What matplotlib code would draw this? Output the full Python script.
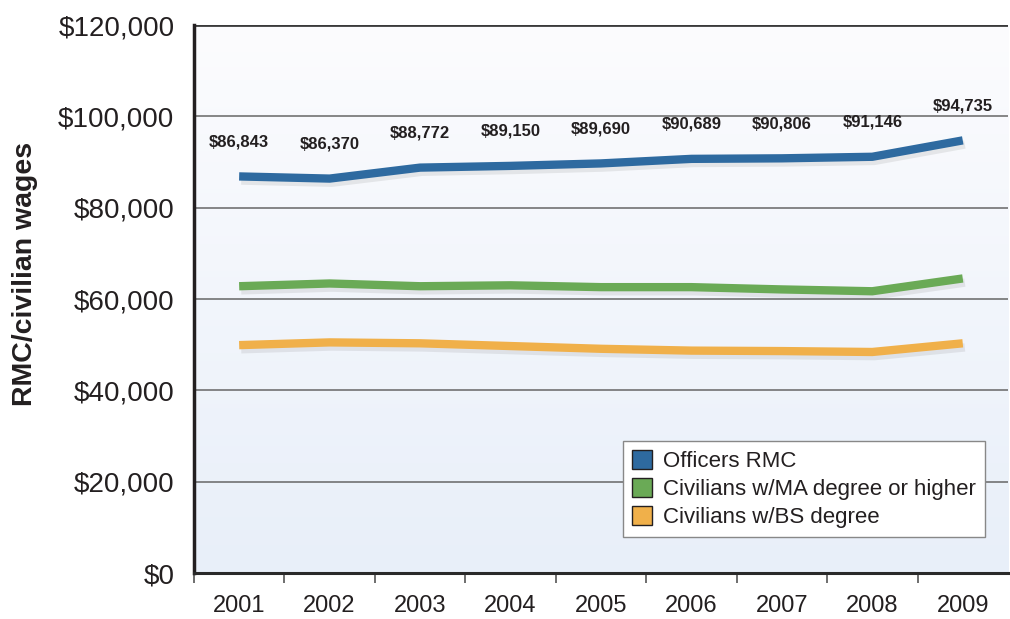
import numpy as np
import matplotlib
matplotlib.use('Agg')
from matplotlib import pyplot as plt
from matplotlib import patheffects as pe
from matplotlib.patches import Patch
from matplotlib.colors import LinearSegmentedColormap

anos = ['2001', '2002', '2003', '2004', '2005', '2006', '2007', '2008', '2009']
oficiais = [86843, 86370, 88772, 89150, 89690, 90689, 90806, 91146, 94735]
civis_ma = [62800, 63400, 62800, 63000, 62600, 62600, 62100, 61700, 64500]
civis_bs = [49900, 50500, 50300, 49700, 49100, 48700, 48600, 48400, 50300]
yticks = [0, 20000, 40000, 60000, 80000, 100000, 120000]

azul = '#2e6aa0'
verde = '#6aaa56'
laranja = '#f0b04a'

plt.rcParams['font.family'] = ['Liberation Sans', 'DejaVu Sans']

fig = plt.figure(figsize=(10.1, 6.19), dpi=100)
ax = fig.add_axes([0.192, 0.0743, 0.806, 0.8853])

x = np.arange(len(anos))
ax.set_xlim(-0.5, len(anos) - 0.5)
ax.set_ylim(0, 120000)

# fundo em degrade (branco em cima, azul claro embaixo)
cmap = LinearSegmentedColormap.from_list('fundo', ['#fcfcfe', '#e8eff9'])
grad = np.linspace(0, 1, 256).reshape(-1, 1)
ax.imshow(grad, cmap=cmap, aspect='auto', origin='upper',
          extent=[-0.5, len(anos) - 0.5, 0, 120000], zorder=0)

for v in yticks[1:-1]:
    ax.axhline(v, color='#666666', lw=1.1, zorder=1)
ax.axhline(yticks[-1], color='#3a3a3a', lw=2.0, zorder=1)

sombra = [pe.SimpleLineShadow(offset=(1.5, -3), shadow_color='#7a7a7a', alpha=0.15),
          pe.Normal()]
for serie, cor in [(oficiais, azul), (civis_ma, verde), (civis_bs, laranja)]:
    ax.plot(x, serie, color=cor, lw=6, solid_capstyle='butt', zorder=3,
            path_effects=sombra)

for xi, v in zip(x, oficiais):
    ax.annotate('${:,}'.format(v), (xi, v), xytext=(0, 25), textcoords='offset points',
                ha='center', va='center', fontsize=12, fontweight='bold',
                color='#231f20', zorder=4)

ax.set_yticks(yticks)
ax.set_yticklabels(['${:,}'.format(v) for v in yticks], fontsize=20, color='#231f20')
ax.set_xticks(x)
ax.set_xticklabels(anos, fontsize=17, color='#231f20')
ax.set_xticks(np.arange(-0.5, len(anos) - 0.5, 1), minor=True)
ax.tick_params(axis='x', which='major', length=0, pad=16)
ax.tick_params(axis='x', which='minor', length=7, width=1.2, color='#555555')
ax.tick_params(axis='y', length=0, pad=14)
ax.set_ylabel('RMC/civilian wages', fontsize=20.5, fontweight='bold', color='#231f20')
ax.yaxis.set_label_coords(-0.191, 0.545)

ax.spines['top'].set_visible(False)
ax.spines['right'].set_visible(False)
ax.spines['left'].set_linewidth(2.5)
ax.spines['left'].set_color('#231f20')
ax.spines['bottom'].set_linewidth(2.2)
ax.spines['bottom'].set_color('#2a2a2a')

handles = [Patch(facecolor=azul, edgecolor='#231f20', label='Officers RMC'),
           Patch(facecolor=verde, edgecolor='#231f20', label='Civilians w/MA degree or higher'),
           Patch(facecolor=laranja, edgecolor='#231f20', label='Civilians w/BS degree')]
leg = ax.legend(handles=handles, loc='lower right', bbox_to_anchor=(0.9855, 0.045),
                fontsize=16, frameon=True, fancybox=False, framealpha=1,
                edgecolor='#888888', handlelength=0.9, handleheight=0.9,
                handletextpad=0.5, labelspacing=0.28, borderpad=0.4)
leg.get_frame().set_linewidth(1.0)
for t in leg.get_texts():
    t.set_color('#231f20')

plt.savefig('out.png', dpi=100)
